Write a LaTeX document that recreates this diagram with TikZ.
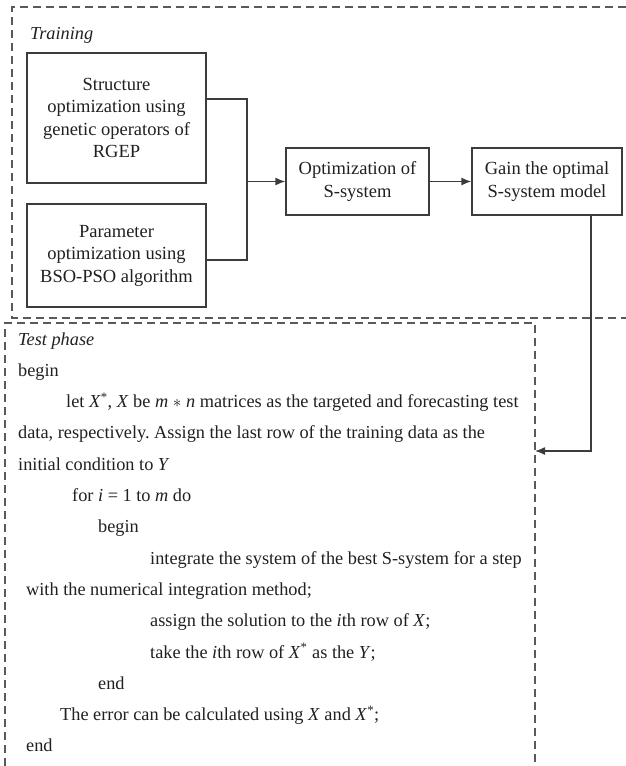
\documentclass[tikz,border=0pt]{standalone}
\usepackage{fontspec}
\setmainfont{Liberation Serif}
\usetikzlibrary{arrows.meta}
\definecolor{ink}{HTML}{231F20}
\definecolor{frame}{HTML}{3C3C3C}
\definecolor{dashgray}{HTML}{5A5A5A}
\newcommand{\ivar}[1]{\textit{#1}}
\newcommand{\starred}[1]{\textit{#1}\textsuperscript{*}}
\frenchspacing
\begin{document}
\begin{tikzpicture}[x=1pt,y=-1pt,
  box/.style={draw=frame, line width=1.3pt, align=center, inner sep=0pt,
              text=ink, font=\fontsize{18.5}{22.5}\selectfont},
  link/.style={draw=frame, line width=1.3pt},
  tip/.style={-{Latex[length=10pt,width=8pt]}},
  phase/.style={draw=dashgray, line width=1.2pt, dash pattern=on 8pt off 5pt},
  codeline/.style={anchor=base west, inner sep=0pt, text=ink,
                   font=\fontsize{18.3}{22.5}\selectfont}]
\useasboundingbox (0,0) rectangle (626,766);

% training frame (open on the right)
\coordinate (trA) at (626,7);
\coordinate (trB) at (12,7);
\coordinate (trC) at (12,318);
\coordinate (trD) at (626,318);
\draw[phase] (trA) -- (trB) -- (trC) -- (trD);
\node[codeline] (trainlabel) at (30,39) {\textit{Training}};

% training blocks
\node[box, minimum width=179pt, minimum height=130pt] (b1) at (116.5,118)
  {Structure\\optimization using\\genetic operators of\\RGEP};
\node[box, minimum width=179pt, minimum height=103pt] (b2) at (116.5,255.5)
  {Parameter\\optimization using\\BSO-PSO algorithm};
\node[box, minimum width=143pt, minimum height=67pt] (b3) at (357.5,181.5)
  {Optimization of\\S-system};
\node[box, minimum width=150pt, minimum height=67pt] (b4) at (547,181.5)
  {Gain the optimal\\S-system model};

% merging connector
\coordinate (j1) at (247,99);
\coordinate (j2) at (247,260);
\coordinate (jm) at (247,181.5);
\draw[link] (b1.east |- j1) -- (j1) -- (j2) -- (b2.east |- j2);
\draw[link, tip] (jm) -- (b3.west);
\draw[link, tip] (b3.east) -- (b4.west);

% test frame (open at the bottom)
\coordinate (teA) at (5,766);
\coordinate (teB) at (5,323);
\coordinate (teC) at (535,323);
\coordinate (teD) at (535,766);
\draw[phase] (teA) -- (teB) -- (teC) -- (teD);

% connector from the model to the test phase
\coordinate (dn) at (591,451);
\coordinate (tin) at (535,451);
\draw[link, tip] (b4.south -| dn) -- (dn) -- (tin);

% test phase listing
\node[codeline] (t1)  at (18,345)    {\textit{Test phase}};
\node[codeline] (t2)  at (18,376.3)  {begin};
\node[codeline] (t3)  at (66,407.6)  {let \starred{X}, \ivar{X} be \ivar{m}~$\ast$~\ivar{n} matrices as the targeted and forecasting test};
\node[codeline] (t4)  at (18,438.9)  {data, respectively. Assign the last row of the training data as the};
\node[codeline] (t5)  at (18,470.2)  {initial condition to \ivar{Y}};
\node[codeline] (t6)  at (72,501.5)  {for \ivar{i} = 1 to \ivar{m} do};
\node[codeline] (t7)  at (98,532.8)  {begin};
\node[codeline] (t8)  at (150,564.1) {integrate the system of the best S-system for a step};
\node[codeline] (t9)  at (26,595.4)  {with the numerical integration method;};
\node[codeline] (t10) at (150,626.7) {assign the solution to the \ivar{i}th row of \ivar{X};};
\node[codeline] (t11) at (150,658)   {take the \ivar{i}th row of \starred{X} as the \ivar{Y};};
\node[codeline] (t12) at (98,689.3)  {end};
\node[codeline] (t13) at (60,720.6)  {The error can be calculated using \ivar{X} and \starred{X};};
\node[codeline] (t14) at (26,751.9)  {end};
\end{tikzpicture}
\end{document}
